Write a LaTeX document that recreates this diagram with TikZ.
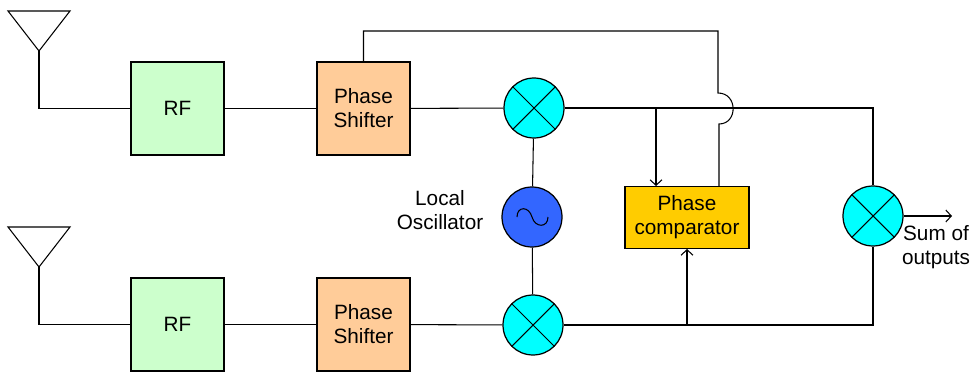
\documentclass[tikz,border=0pt]{standalone}
\usepackage{fontspec}
\setmainfont{Liberation Sans}
\usetikzlibrary{arrows.meta}

\definecolor{rfgreen}{HTML}{CCFFCC}
\definecolor{shiftorange}{HTML}{FFCC99}
\definecolor{mixcyan}{HTML}{00FFFF}
\definecolor{oscblue}{HTML}{3366FF}
\definecolor{compyellow}{HTML}{FFCC00}

\tikzset{
  wire/.style={line width=0.6pt},
  sigarrow/.style={wire, -{Straight Barb[length=1.1mm,width=2.4mm]}},
  blockbox/.style={draw, line width=0.6pt, minimum size=1.86cm, inner sep=0pt, align=center},
  lbl/.style={align=center, inner sep=0pt},
  mixer/.style={draw, circle, line width=0.7pt, fill=mixcyan, minimum size=1.2cm, inner sep=0pt,
    path picture={
      \draw[wire] (path picture bounding box.north west) -- (path picture bounding box.south east);
      \draw[wire] (path picture bounding box.south west) -- (path picture bounding box.north east);
    }},
  osc/.style={draw, circle, line width=0.7pt, fill=oscblue, minimum size=1.2cm, inner sep=0pt,
    path picture={
      \draw[wire, shift={(path picture bounding box.center)}]
        (-15,0) .. controls (-15,-11) and (-3,-11) .. (0,0)
        .. controls (3,11) and (16,11) .. (16,0);
    }}
}

\begin{document}
\begin{tikzpicture}[x=0.02cm, y=-0.02cm, font=\fontsize{11.8}{13.7}\selectfont]
  \useasboundingbox (0,0) rectangle (971,372);

  % Draw the blocks of both branches
  \foreach \name/\y in {A/108.5, B/324.5} {
    \node[blockbox, fill=rfgreen] (rf\name) at (177.5,\y) {RF};
    \node[blockbox, fill=shiftorange] (shifter\name) at (363.5,\y) {Phase\\Shifter};
  }

  % Draw the mixers and the oscillator
  \node[mixer] (mixA) at (534,108) {};
  \node[mixer] (mixB) at (533,325) {};
  \node[mixer] (mixSum) at (873,216) {};
  \node[osc] (lo) at (532,217) {};
  \node[lbl] (loLabel) at (440,210) {Local\\Oscillator};

  \node[draw, line width=0.6pt, fill=compyellow, minimum width=2.48cm, minimum height=1.24cm,
    inner sep=0pt, align=center] (comp) at (687,217.5) {Phase\\comparator};

  % Draw the antennas
  \foreach \name/\y in {A/11, B/227} {
    \coordinate (antL\name) at (8,\y);
    \coordinate (antR\name) at (70,\y);
    \coordinate (antTip\name) at (39,\y+40);
    \draw[wire, line join=miter] (antL\name) -- (antR\name) -- (antTip\name) -- cycle;
    \draw[wire] (antTip\name) |- (rf\name);
  }

  % Draw the branch signal paths
  \foreach \name in {A,B} {
    \draw[wire] (rf\name) -- (shifter\name);
    \draw[wire] (shifter\name) -- (mix\name);
  }
  \draw[wire] (mixA) -- (lo);
  \draw[wire] (lo) -- (mixB);
  \draw[wire] (mixA) -| (mixSum);
  \draw[wire] (mixB) -| (mixSum);

  % Draw the feedback with its hop over the upper line
  \coordinate (fbCorner) at (718,31);
  \coordinate (hopTop) at (718,93);
  \coordinate (hopBottom) at (719,124);
  \coordinate (compOut) at (719,186);
  \draw[wire] (shifterA.north) |- (fbCorner) -- (hopTop)
    .. controls (738,93) and (738,124) .. (hopBottom) -- (compOut);

  % Draw the comparator inputs
  \coordinate (tapA) at (656,108);
  \coordinate (tapB) at (687,325);
  \draw[sigarrow] (tapA) -- (tapA |- comp.north);
  \draw[sigarrow] (tapB) -- (comp.south);

  % Draw the output
  \coordinate (outEnd) at (952,216);
  \draw[sigarrow] (mixSum) -- (outEnd);
  \node[lbl] (sumLabel) at (936,247) {Sum of\\outputs};
\end{tikzpicture}
\end{document}
